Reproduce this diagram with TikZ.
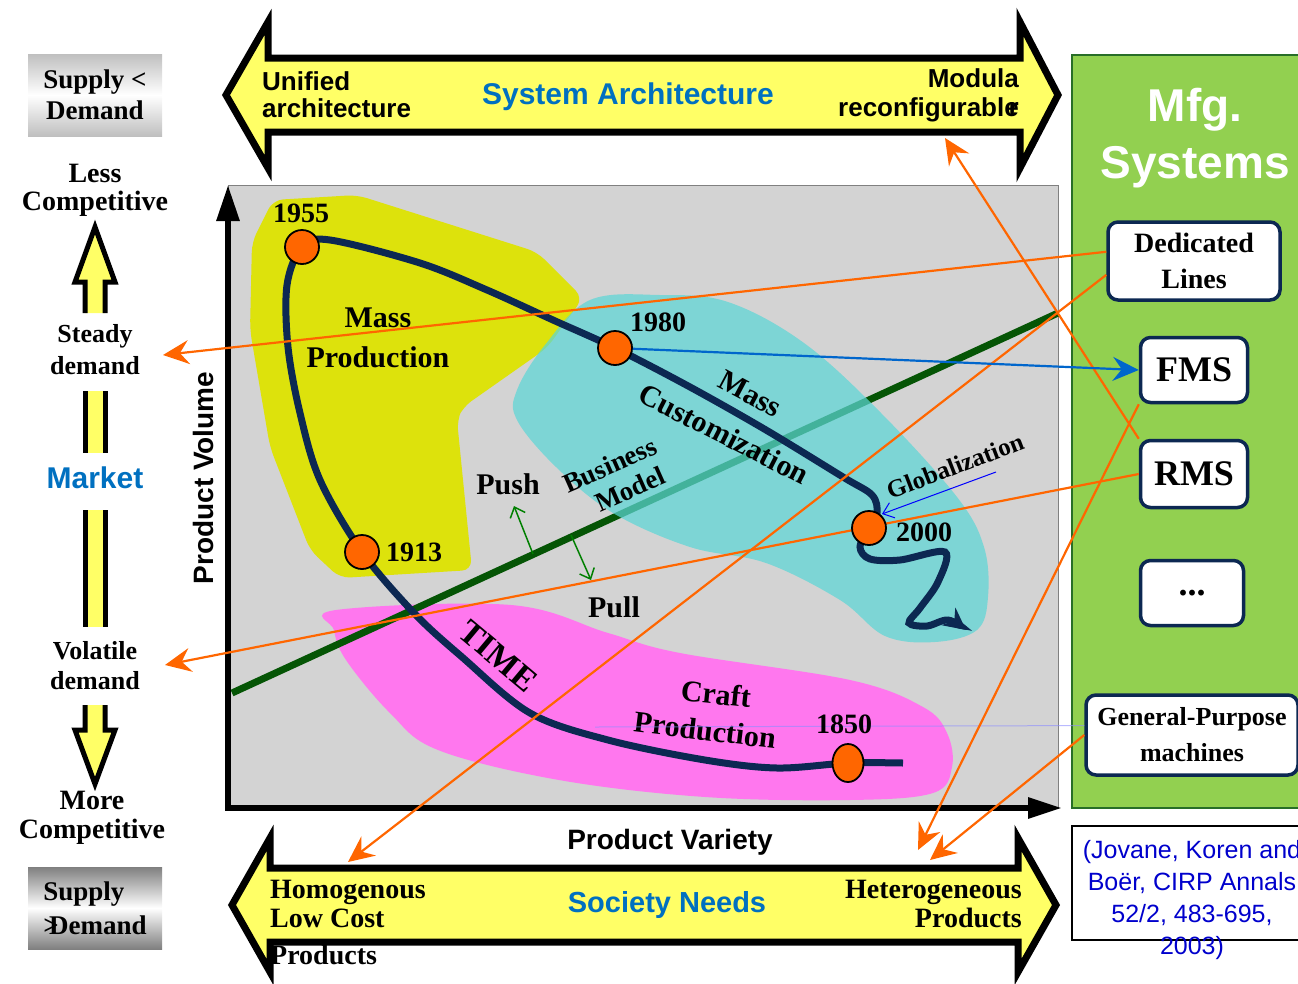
\documentclass[tikz,border=0pt]{standalone}
\usepackage{fontspec}
\setmainfont{Liberation Serif}
\setsansfont{Liberation Sans}
\usetikzlibrary{arrows.meta,shapes.geometric}

\definecolor{arrowyellow}{RGB}{255,255,102}
\definecolor{massyellow}{RGB}{221,226,12}
\definecolor{custcyan}{RGB}{92,214,214}
\definecolor{craftpink}{RGB}{255,119,238}
\definecolor{timenavy}{RGB}{12,40,82}
\definecolor{linkorange}{RGB}{255,102,0}
\definecolor{bizgreen}{RGB}{5,85,5}
\definecolor{mfggreen}{RGB}{146,208,80}
\definecolor{mfgborder}{RGB}{40,110,40}
\definecolor{headblue}{RGB}{0,112,192}
\definecolor{refblue}{RGB}{0,0,204}
\definecolor{fmsblue}{RGB}{0,102,204}
\definecolor{plotgray}{RGB}{211,211,211}

\newcommand{\fsz}[2]{\fontsize{#1}{#2}\selectfont}

\tikzset{
  bigarrow/.style={fill=arrowyellow, draw=black, line width=7pt, line join=miter},
  lbl/.style 2 args={font=\bfseries\fsz{#1}{#2}, align=center, inner sep=1pt},
  sanslbl/.style 2 args={font=\sffamily\bfseries\fsz{#1}{#2}, align=center, inner sep=1pt},
  supplybox/.style={minimum width=134pt, minimum height=82pt, inner sep=0pt},
  mfgbox/.style={draw=timenavy, line width=3.5pt, fill=white, rounded corners=10pt,
    align=center, inner sep=2pt},
  year/.style={circle, fill=linkorange, draw=black, line width=1.8pt,
    minimum size=34pt, inner sep=0pt},
  link/.style={draw=linkorange, line width=2.2pt,
    -{Stealth[length=26pt,width=24pt,inset=9pt]}},
  pushpull/.style={draw=green!50!black, line width=1.5pt,
    -{Straight Barb[length=9pt,width=16pt]}},
}

\begin{document}
\begin{tikzpicture}[x=1pt,y=-1pt]
\useasboundingbox (0,0) rectangle (1298,983);

% system architecture and society needs
\filldraw[bigarrow] (226,95) -- (268,22) -- (268,58) -- (1020,58) -- (1020,22) -- (1058,95)
  -- (1020,168) -- (1020,132) -- (268,132) -- (268,168) -- cycle;
\filldraw[bigarrow] (232,905) -- (270,838) -- (270,868) -- (1018,868) -- (1018,838) -- (1056,905)
  -- (1018,972) -- (1018,942) -- (270,942) -- (270,972) -- cycle;

\node[sanslbl={26}{27}, align=left, anchor=west, inner sep=0pt] (unified) at (262,95)
  {Unified\\architecture};
\node[sanslbl={30}{30}, text=headblue] (sysarch) at (628,97) {System Architecture};
\node[sanslbl={26}{29}, align=right, anchor=east, inner sep=0pt] (modula) at (1019,95)
  {Modula\\reconfigurable\llap{r}};

\node[sanslbl={28}{28}] (variety) at (670,842) {Product Variety};
\node[lbl={28}{29}, align=left, anchor=north west, inner sep=0pt] (homog) at (270,880)
  {Homogenous\\Low Cost\\[8pt]Products};
\node[sanslbl={29}{29}, text=headblue] (society) at (667,905) {Society Needs};
\node[lbl={28}{29}, align=right, anchor=north east, inner sep=0pt] (hetero) at (1022,880)
  {Heterogeneous\\Products};

% market column
\node[supplybox, top color=gray!50, bottom color=gray!50, middle color=white,
  lbl={27}{31}] (supplyless) at (95,95) {Supply <\\Demand};
\node[lbl={28}{28}] (lesscomp) at (95,190) {Less\\Competitive};
\node[lbl={26}{32}] (steady) at (95,350) {Steady\\demand};
\node[sanslbl={30}{30}, text=headblue] (market) at (95,478) {Market};
\node[lbl={26}{30}] (volatile) at (95,666) {Volatile\\demand};
\node[lbl={28}{29}] (morecomp) at (92,818) {More\\Competitive};
\node[supplybox, top color=gray, bottom color=gray, middle color=white,
  lbl={27}{34}, align=left] (supplymore) at (95,908) {Supply\\>\kern-0.35em Demand};

\fill[arrowyellow] (95,227) -- (115,282) -- (105,282) -- (105,313) -- (85,313) -- (85,282)
  -- (75,282) -- cycle;
\draw[line width=5pt, line join=miter] (85,313) -- (85,282) -- (75,282) -- (95,227)
  -- (115,282) -- (105,282) -- (105,313);
\foreach \ya/\yb in {391/453, 510/627} {
  \fill[arrowyellow] (85,\ya) rectangle (105,\yb);
  \draw[line width=5pt] (85,\ya) -- (85,\yb) (105,\ya) -- (105,\yb);
}
\fill[arrowyellow] (95,784) -- (115,730) -- (105,730) -- (105,705) -- (85,705) -- (85,730)
  -- (75,730) -- cycle;
\draw[line width=5pt, line join=miter] (85,705) -- (85,730) -- (75,730) -- (95,784)
  -- (115,730) -- (105,730) -- (105,705);

% product volume / variety plane
\filldraw[fill=plotgray, draw=gray, line width=1pt] (228,185) rectangle (1058,808);

\fill[massyellow, rounded corners=10pt] (273,200) -- (357,195) -- (537,252) -- (583,298)
  -- (547,348) -- (463,407) -- (457,420) -- (472,570) -- (340,578) -- (310,550)
  -- (270,447) -- (250,330) -- (252,242) -- cycle;
\fill[craftpink] plot[smooth cycle, tension=0.6] coordinates {(336,610) (511,605) (608,633)
  (680,653) (850,680) (923,707) (947,733) (952,767) (933,793) (850,800) (705,797)
  (559,780) (438,750) (390,713) (346,660) (334,630)};

\coordinate (bizstart) at (232,693);
\coordinate (bizend) at (1058,313);
\draw[bizgreen, line width=7pt] (bizstart) -- (bizend);

\fill[custcyan, fill opacity=0.72] plot[smooth cycle, tension=0.6] coordinates {(590,300)
  (660,295) (728,302) (804,343) (881,413) (957,497) (984,547) (988,597) (977,630)
  (935,642) (885,636) (840,600) (766,563) (690,547) (613,513) (556,467) (517,420)
  (517,390) (545,345)};

\draw[line width=6pt, line join=miter, {Triangle[length=36pt,width=22pt]}-{Triangle[length=34pt,width=20pt]}]
  (228,185) -- (228,808) -- (1062,808);
\node[sanslbl={28}{28}, rotate=90] (volume) at (203,478) {Product Volume};

% the time line through the production eras
\coordinate (c1850) at (848,763);
\coordinate (c1913) at (362,552);
\coordinate (c1955) at (302,247);
\coordinate (c1980) at (615,348);
\coordinate (c2000) at (869,528);
\draw[timenavy, line width=7pt, -{Stealth[length=22pt,width=22pt]}]
  plot[smooth, tension=0.55] coordinates {(903,763) (c1850) (777,768) (705,760) (608,740)
  (530,713) (462,657) (414,613) (c1913) (320,480) (300,413) (288,347) (287,285) (c1955)
  (330,240) (420,263) (487,290) (553,320) (c1980) (690,387) (766,430) (843,477) (872,495)
  (877,513) (c2000) (860,547) (870,559) (900,560) (945,552) (938,582) (920,608) (909,623)
  (927,626) (948,620) (966,630)};

\node[lbl={30}{40}] (massprod) at (378,338) {Mass\\Production};
\node[lbl={30}{30}, rotate=-28] (masscust) at (750,394) {Mass};
\node[lbl={30}{30}, rotate=-27] (custom) at (724,434) {Customization};
\node[lbl={27}{27}, rotate=24] (business) at (610,465) {Business};
\node[lbl={27}{27}, rotate=24] (model) at (630,489) {Model};
\node[lbl={25}{25}, rotate=21] (global) at (955,466) {Globalization};
\node[lbl={30}{30}] (push) at (508,484) {Push};
\node[lbl={30}{30}] (pull) at (614,607) {Pull};
\node[lbl={34}{34}, rotate=-40] (time) at (498,656) {TIME};
\node[lbl={30}{30}, rotate=-6] (craft) at (716,694) {Craft};
\node[lbl={30}{30}, rotate=-7] (craftprod) at (705,730) {Production};

\coordinate (pushfoot) at (533,554);
\coordinate (pushtip) at (514,506);
\coordinate (pullfoot) at (571,535);
\coordinate (pulltip) at (591,580);
\draw[pushpull] (pushfoot) -- (pushtip);
\draw[pushpull] (pullfoot) -- (pulltip);

\coordinate (globfrom) at (996,472);
\coordinate (globto) at (882,514);
\draw[blue, line width=1pt, -{Straight Barb[length=10pt,width=16pt]}] (globfrom) -- (globto);

% manufacturing systems
\filldraw[fill=mfggreen, draw=mfgborder, line width=1.5pt] (1072,55) rectangle (1310,808);
\node[sanslbl={46}{57}, text=white] (mfg) at (1195,138) {Mfg.\\Systems};
\node[mfgbox, lbl={28}{36}, minimum width=172pt, minimum height=78pt] (ded) at (1194,261)
  {Dedicated\\Lines};
\node[mfgbox, lbl={36}{36}, minimum width=107pt, minimum height=65pt] (fms) at (1194,370) {FMS};
\node[mfgbox, lbl={36}{36}, minimum width=107pt, minimum height=67pt] (rms) at (1194,474) {RMS};
\node[mfgbox, lbl={36}{36}, minimum width=103pt, minimum height=65pt] (etc) at (1192,593) {...};
\node[mfgbox, lbl={26}{36}, minimum width=212pt, minimum height=80pt] (gp) at (1192,735)
  {General-Purpose\\machines};

\node[draw=black, line width=2pt, minimum width=240pt, minimum height=114pt] (refbox)
  at (1192,883) {};
\node[font=\sffamily\fsz{25}{32}, text=refblue, align=center] (reftext) at (1192,900)
  {(Jovane, Koren and\\Boër, CIRP Annals\\52/2, 483-695,\\2003)};

% links between systems, market and needs
\coordinate (steadyend) at (163,355);
\coordinate (volatileend) at (165,665);
\coordinate (homogend) at (348,862);
\coordinate (reconend) at (945,138);
\coordinate (heteroend) at (918,850);
\coordinate (heteroendb) at (930,860);
\coordinate (craftmark) at (595,727);
\draw[blue!45, opacity=0.6, line width=1pt] (gp.175) -- (craftmark);
\draw[link] (ded.174) -- (steadyend);
\draw[link] (ded.189) -- (homogend);
\draw[link] (rms.north west) -- (reconend);
\draw[link] (rms.west) -- (volatileend);
\draw[link] (fms.south west) -- (heteroend);
\draw[link] (gp.west) -- (heteroendb);

% era markers
\node[year] (n1955) at (c1955) {};
\node[year] (n1980) at (c1980) {};
\node[year] (n1913) at (c1913) {};
\node[year] (n2000) at (c2000) {};
\node[year, ellipse, minimum width=31pt, minimum height=38pt] (n1850) at (c1850) {};
\node[lbl={28}{28}] (y1955) at (301,213) {1955};
\node[lbl={28}{28}] (y1980) at (658,322) {1980};
\node[lbl={28}{28}] (y1913) at (414,552) {1913};
\node[lbl={28}{28}] (y2000) at (924,532) {2000};
\node[lbl={28}{28}] (y1850) at (844,724) {1850};

\draw[fmsblue, line width=2.2pt, -{Stealth[length=26pt,width=24pt,inset=9pt]}] (n1980) -- (fms.west);
\end{tikzpicture}
\end{document}
